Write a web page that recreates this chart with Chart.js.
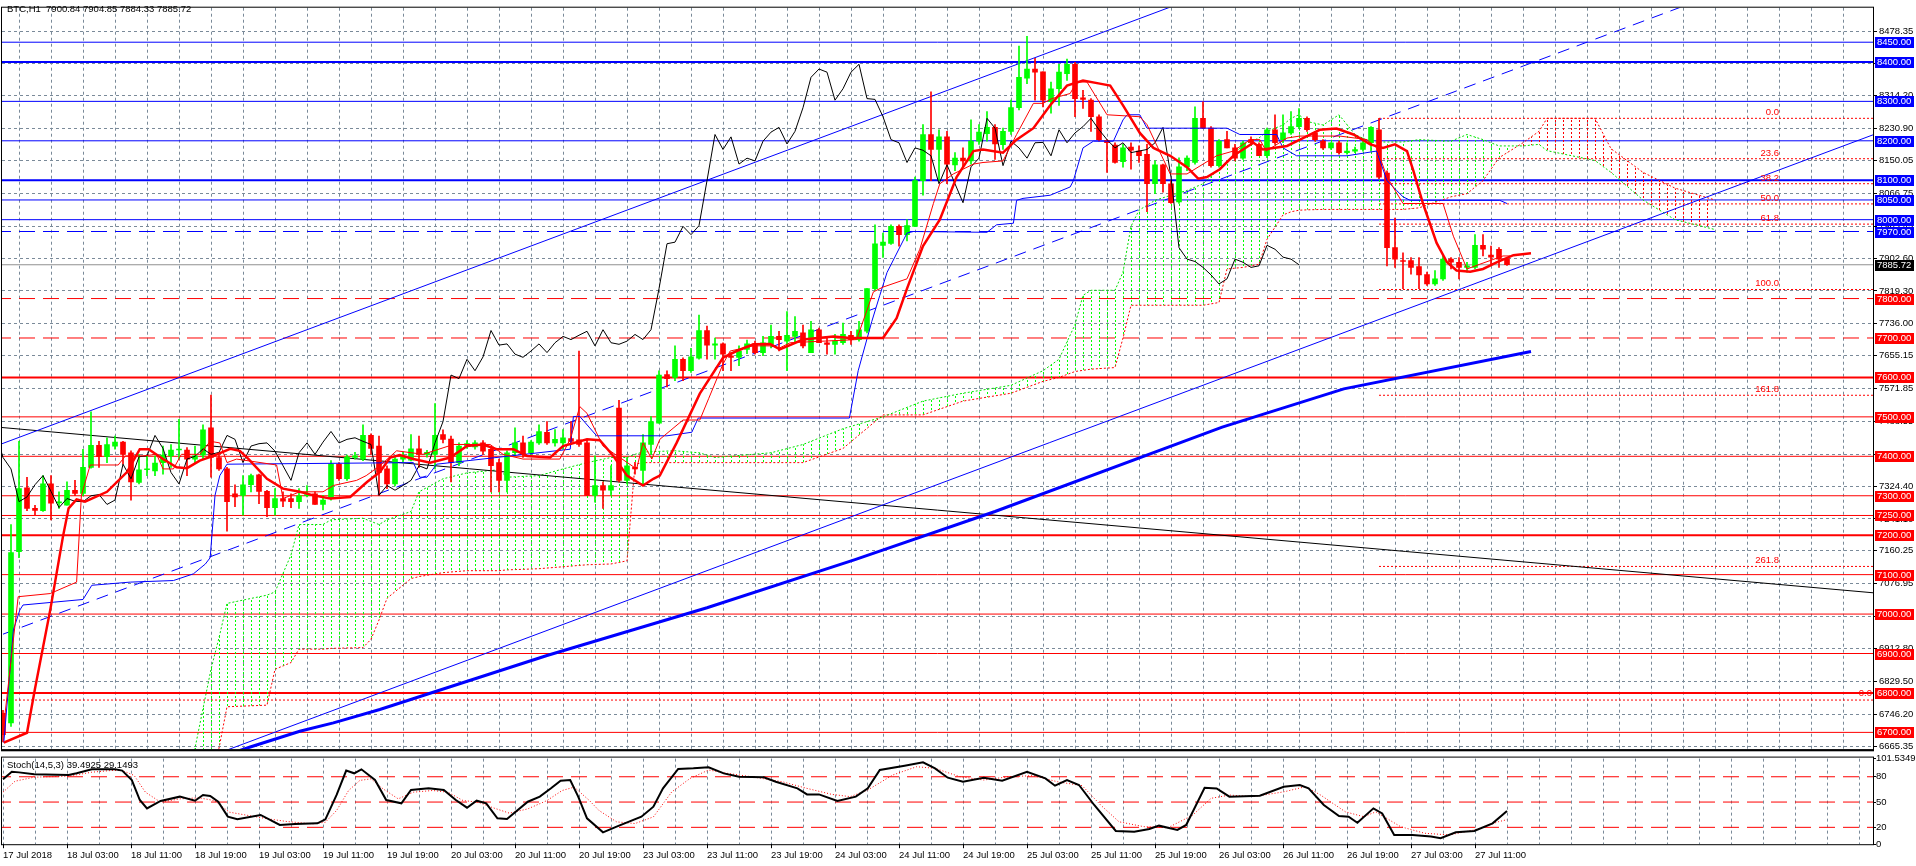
<!DOCTYPE html>
<html>
<head>
<meta charset="utf-8">
<script src="https://cdn.jsdelivr.net/npm/chart.js@4.4.0/dist/chart.umd.min.js"></script>
<style>
  body { margin: 0; background: #fff; width: 1916px; height: 866px; overflow: hidden; position: relative; }
  #main { position: absolute; left: 0; top: 0; }
  #stoch { position: absolute; left: 0; top: 746px; }
</style>
</head>
<body>
<canvas id="main" width="1916" height="757"></canvas>
<canvas id="stoch" width="1916" height="120"></canvas>
<script>
// ---- data (H1 bars, index 0 = 17 Jul 19:00) ----
var open = [6748,6724,7158,7320,7268,7262,7330,7282,7276,7314,7306,7372,7428,7399,7426,7436,7409,7334,7366,7363,7384,7401,7416,7416,7393,7403,7472,7397,7368,7305,
  7301,7328,7353,7311,7270,7293,7293,7285,7300,7305,7278,7293,7380,7343,7397,7393,7453,7426,7368,7330,7393,7390,7419,7405,7405,7455,7444,7384,7426,7424,
  7434,7418,7384,7339,7409,7434,7409,7434,7461,7434,7434,7445,7442,7434,7301,7326,7314,7522,7339,7372,7364,7430,7484,7607,7600,7646,7617,7649,7719,7682,
  7685,7655,7651,7671,7685,7663,7684,7704,7692,7704,7713,7663,7721,7688,7684,7688,7707,7696,7717,7825,7935,7940,7983,7962,7983,8099,8216,8178,8210,8139,
  8156,8149,8199,8218,8234,8190,8224,8284,8359,8382,8375,8299,8332,8370,8394,8309,8303,8261,8201,8189,8147,8184,8174,8166,8091,8139,8091,8045,8134,8145,
  8257,8232,8137,8203,8182,8156,8203,8191,8162,8228,8203,8220,8236,8257,8220,8199,8182,8195,8170,8174,8178,8195,8228,8118,7929,7896,7896,7881,7861,7837,
  7850,7900,7892,7879,7879,7935,7910,7925,7900.84];
var high = [6756,7227,7438,7347,7276,7351,7351,7310,7335,7339,7418,7513,7438,7447,7451,7438,7414,7405,7401,7401,7426,7430,7494,7422,7426,7480,7555,7403,7372,7328,
  7351,7355,7355,7314,7318,7310,7305,7318,7326,7310,7301,7389,7384,7403,7410,7480,7457,7451,7376,7400,7410,7455,7451,7415,7534,7467,7451,7434,7440,7440,
  7440,7426,7393,7414,7472,7451,7440,7480,7488,7468,7468,7488,7667,7442,7401,7335,7376,7542,7397,7385,7455,7501,7617,7617,7680,7650,7674,7758,7730,7700,
  7688,7663,7680,7695,7692,7704,7733,7717,7767,7754,7733,7742,7725,7700,7709,7738,7717,7742,7825,7987,7966,7987,7987,8000,8108,8241,8324,8228,8224,8170,
  8182,8253,8241,8274,8241,8232,8303,8440,8465,8409,8375,8349,8394,8407,8399,8328,8307,8266,8203,8195,8191,8195,8187,8191,8149,8141,8099,8157,8162,8286,
  8299,8236,8203,8224,8191,8199,8210,8195,8232,8266,8266,8274,8282,8261,8224,8203,8195,8199,8195,8184,8207,8236,8257,8124,8004,7916,7904,7904,7867,7871,
  7908,7904,7904,7892,7962,7962,7933,7929,7904.85];
var low = [6676,6715,7143,7262,7252,7260,7239,7268,7276,7300,7300,7370,7372,7384,7418,7380,7289,7330,7351,7351,7355,7372,7393,7351,7384,7393,7347,7364,7210,7272,
  7251,7310,7280,7247,7251,7272,7270,7268,7297,7278,7264,7289,7339,7339,7393,7389,7405,7301,7318,7325,7385,7388,7372,7398,7368,7434,7335,7376,7420,7418,
  7405,7310,7310,7310,7401,7397,7405,7430,7430,7426,7418,7430,7425,7301,7284,7268,7301,7335,7330,7355,7326,7405,7484,7576,7592,7592,7613,7646,7646,7646,
  7617,7617,7630,7660,7659,7655,7675,7667,7617,7688,7675,7663,7688,7659,7659,7684,7684,7692,7713,7821,7904,7937,7933,7946,7983,8062,8099,8099,8091,8124,
  8133,8141,8191,8199,8153,8178,8216,8278,8345,8303,8286,8270,8290,8353,8261,8282,8224,8199,8120,8143,8133,8128,8145,8020,8066,8070,8041,8041,8124,8141,
  8232,8133,8133,8182,8149,8153,8190,8162,8157,8191,8195,8216,8232,8224,8199,8178,8178,8166,8166,8170,8174,8174,8104,7883,7879,7825,7862,7825,7833,7833,
  7846,7875,7850,7867,7875,7908,7887,7879,7884.33];
var close = [6694,7156,7318,7268,7263,7330,7281,7283,7314,7306,7372,7428,7399,7430,7436,7405,7335,7366,7366,7383,7403,7416,7418,7393,7401,7467,7397,7368,7285,7297,
  7328,7351,7311,7270,7293,7286,7285,7300,7303,7278,7289,7380,7343,7399,7401,7453,7420,7359,7330,7393,7400,7419,7405,7410,7453,7443,7384,7426,7432,7434,
  7413,7376,7339,7409,7434,7405,7436,7463,7434,7443,7447,7438,7430,7301,7326,7314,7326,7339,7376,7368,7434,7488,7606,7597,7646,7617,7652,7719,7682,7685,
  7659,7651,7667,7685,7663,7688,7704,7696,7707,7717,7680,7721,7688,7684,7692,7709,7696,7721,7825,7939,7943,7983,7962,7985,8099,8216,8178,8210,8141,8156,
  8149,8199,8222,8234,8192,8224,8284,8361,8382,8374,8303,8332,8374,8394,8307,8305,8261,8203,8195,8145,8182,8176,8162,8091,8139,8091,8043,8134,8156,8257,
  8232,8137,8199,8182,8156,8195,8196,8162,8228,8195,8220,8236,8257,8228,8203,8182,8195,8170,8174,8178,8195,8234,8108,7929,7900,7894,7879,7860,7837,7850,
  7900,7892,7879,7883,7935,7925,7905,7900,7885.72];

// indicator lines as [bar index, value] vertices
var tenkan = [[0.1,6719],[1.9,7044],[5.9,7052],[9.2,7081],[9.8,7301],[10.9,7378],[14.4,7378],[15.3,7401],[17.5,7401],[19.2,7405],[20,7368],[21.3,7368],[22.3,7405],[24.6,7405],
  [25.9,7438],[27.1,7434],[28,7384],[29.2,7393],[34.2,7378],[35,7293],[37.1,7310],[40,7310],[41.3,7326],[44.2,7339],[45.4,7351],[47.1,7376],[49.2,7414],[52.5,7405],
  [56.3,7430],[60.9,7430],[62.5,7405],[65,7393],[69.6,7393],[70.9,7443],[72.1,7526],[73,7509],[75,7426],[79.2,7368],[80,7434],[81.1,7393],[82.1,7443],[85,7492],
  [87.1,7492],[88.2,7546],[90,7634],[90.9,7667],[93.8,7680],[95.9,7680],[97.1,7675],[98.4,7688],[106.7,7696],[108.8,7817],[110,7829],[113,7850],[114.6,7925],
  [116.3,8041],[117.1,8091],[118.8,8116],[121.3,8141],[122.5,8145],[125,8149],[126.7,8216],[128.8,8295],[130,8295],[131.1,8307],[133.4,8320],[134.2,8349],
  [135.5,8349],[138,8266],[142.1,8261],[143,8241],[145.9,8116],[148,8116],[151.7,8162],[153.8,8174],[155.9,8203],[157.1,8203],[157.9,8174],[160.5,8207],
  [162.1,8212],[167.1,8212],[170.5,8203],[171.7,8182],[173,8108],[175,8041],[180,8041],[181.3,7958],[183,7875],[184.6,7887],[187.5,7908],[188.4,7908]];
var kijun = [[0.1,6674],[1.3,6960],[2.1,7010],[2.5,7023],[10,7037],[11.1,7073],[15.9,7081],[21.3,7085],[23.8,7102],[25.3,7127],[25.9,7143],[26.5,7301],[27.1,7351],
  [28,7380],[51.3,7384],[52.1,7347],[53,7347],[54.2,7380],[70.9,7418],[71.3,7501],[72.1,7501],[74.2,7452],[83,7452],[86.1,7461],[86.9,7497],[105.8,7497],
  [106.9,7617],[108.6,7742],[109.6,7808],[110.5,7866],[113,7966],[113.8,7970],[123,7968],[124.2,7987],[126.3,7991],[126.7,8049],[127.5,8054],[130.9,8062],
  [133.4,8083],[133.8,8099],[135,8182],[136.3,8199],[138.8,8199],[140,8253],[140.5,8266],[142.1,8266],[143,8232],[153,8232],[154.6,8216],[159.2,8216],[160,8182],
  [161.7,8162],[168,8162],[171.7,8174],[173,8099],[174.2,8074],[175,8058],[175.9,8049],[187.1,8049],[188,8041]];
var maFast = [[0.1,6674],[3,6699],[4,6811],[5.9,7010],[7.5,7197],[8.2,7268],[9.2,7291],[10.25,7285],[13,7310],[15.5,7360],[17.1,7418],[18.2,7418],[20,7393],
  [21.7,7372],[23,7370],[24.6,7389],[26.3,7401],[28.4,7419],[29.6,7414],[30.7,7393],[33,7343],[35,7318],[37.1,7310],[38.8,7301],[40.9,7293],[43.4,7297],
  [45.5,7335],[47.1,7360],[48.4,7397],[49.6,7403],[51.3,7393],[53.4,7384],[55.9,7397],[58,7426],[60,7430],[61.7,7418],[63.8,7418],[65.5,7401],[68.4,7397],
  [70,7426],[73,7443],[74.6,7441],[76.3,7401],[78,7351],[80,7326],[81.3,7343],[82.1,7351],[84.2,7434],[87.1,7559],[90,7650],[91.7,7667],[93.8,7684],[95.9,7685],
  [97.1,7671],[100,7696],[103.8,7704],[105.9,7700],[110,7700],[111.7,7750],[113,7825],[115,7933],[117.1,8000],[119.2,8108],[121.3,8174],[122.5,8178],[125,8170],
  [126.7,8203],[128.8,8232],[130.9,8290],[133,8340],[135,8353],[137.1,8345],[138.4,8340],[140,8290],[142.1,8220],[143.8,8182],[145.9,8162],[148,8133],
  [149.4,8104],[150.5,8108],[152.1,8128],[153.8,8162],[155,8178],[156.3,8195],[157.5,8178],[158.8,8182],[160.5,8187],[162.5,8207],[164.6,8228],[166.7,8231],
  [168.8,8216],[170.9,8191],[172.5,8182],[174,8191],[175.5,8174],[176.3,8124],[177.5,8041],[179.2,7941],[180.5,7892],[181.7,7871],[183.4,7868],[185,7875],
  [186.7,7892],[188.8,7910],[191,7915]];
var maSlow = [[29,6650],[30.9,6663],[37.1,6703],[41.3,6724],[47.1,6758],[68,6895],[88,7016],[106.5,7138],[124,7260],[152.4,7474],[167.6,7571],[191,7666]];

// kumo (shifted 26 bars ahead)
var cloudX = [22,24,26,27,28,33,34,36,37,40,41,45,46,47,48,51,52,55,58,62,63,67,70,73,76,78,79,80,84,87,89,96,100,105,110,115,120,126,130,132,
  134,135,136,139,140,141,142,144,146,148,150,152,153,155,157,158,160,161,162,163,165,167,169,171,175,177,181,183,185,187,190,192,193,199,201,205,209,214];
var spanA = [6550,6660,6860,6940,7027,7048,7056,7150,7227,7227,7239,7243,7235,7227,7239,7260,7310,7343,7358,7366,7347,7351,7368,7384,7397,7397,7405,7411,7414,7409,
  7397,7409,7430,7470,7500,7540,7560,7580,7617,7646,7734,7808,7821,7821,7867,7983,8024,8049,8062,8074,8091,8128,8145,8190,8207,8224,8240,8257,8266,8249,
  8240,8266,8216,8197,8197,8203,8199,8216,8203,8187,8187,8191,8175,8150,8120,8050,8000,7975];
var spanB = [6500,6500,6560,6660,6765,6769,6860,6877,6911,6911,6913,6915,6936,6985,7040,7090,7095,7105,7110,7110,7112,7115,7120,7125,7127,7135,7380,7384,7384,7384,
  7384,7384,7384,7420,7505,7505,7540,7560,7590,7600,7615,7618,7621,7625,7700,7783,7783,7783,7783,7783,7783,7790,7875,7879,7887,7950,8012,8020,8024,8025,
  8026,8026,8026,8026,8026,8030,8058,8066,8099,8157,8195,8224,8257,8257,8180,8120,8080,8050];

var stochMain = [[0,77],[1.1,86],[2,85.2],[3.9,82.9],[8.2,82.1],[9.2,84.1],[11.1,88.8],[14,88.8],[14.9,87.3],[16.1,76.1],[17.1,52.4],[18,42.5],[19.7,51.3],
  [22.1,56.4],[24,51.6],[25,58.3],[25.9,57.2],[26.9,50.4],[28.1,32.7],[29.3,29.5],[32.2,34.7],[34.6,22.8],[36.5,24],[39.3,24.8],[40.3,29.5],[41.7,58.4],
  [42.9,87.3],[43.9,84.1],[44.8,88.8],[46.5,76.2],[47.9,52.4],[49.8,48.5],[51,64.3],[53.2,66.3],[55.1,64.3],[56.6,52.4],[58,43.3],[59.2,51.6],[60.4,48.5],
  [61.8,30.7],[63,29.9],[65.6,50.4],[67.1,56.4],[68.5,66.3],[69.7,75.4],[70.9,76.1],[71.9,56.4],[73,30.7],[75,14.1],[76.7,20.8],[79.8,32.6],[81.3,44.5],
  [82.5,66.2],[84.4,89.2],[86.3,90],[88.2,91.2],[90.1,84],[92,80.1],[95.1,79.3],[96.6,74.1],[99.3,66.2],[100.5,59.1],[102,59.1],[104.3,51.2],[106.6,56.4],
  [108.1,66.2],[109.6,88],[112.7,93.1],[115,97.1],[116.5,90],[118.1,78.9],[120,74.1],[122.6,78.9],[124.9,75.3],[128,86],[130.3,78.1],[131.5,69.4],[133,76.1],
  [134.5,70.2],[136.4,46.5],[139.1,15.7],[141.4,14.9],[143.3,18.1],[144.5,22],[146.8,16.9],[147.9,22.8],[150.2,67],[151.7,66.2],[153.3,56.4],[157.1,57.5],
  [160.1,68.2],[162.1,70.2],[163.2,66.2],[165.1,46.5],[167,33.4],[168.2,32.6],[169.3,25.5],[171.3,42.5],[172.4,36.5],[173.9,10.9],[176.2,10.9],[178.5,9],
  [179.7,7],[181.6,14.1],[183.9,15.7],[186.2,24.7],[188,39.5]];
var stochSignal = [[0,61.7],[1.5,74.7],[3.9,79.5],[8.2,80.7],[11.1,85.4],[13.5,87.4],[14.9,87.4],[16.4,81.5],[17.8,61.7],[19.7,49.8],[22.1,53.8],[24.5,55],
  [26.4,51.8],[28.3,38],[30.7,34],[33.1,30.1],[35.5,26.9],[38.7,24.1],[40.3,26.1],[41.7,40],[43.2,63.7],[44.6,75.6],[46,77.6],[47.5,65.7],[49.4,53.8],
  [51.3,61.7],[53.7,63.7],[55.6,61.7],[57.5,51.8],[59.4,49.8],[61.3,43.1],[63.3,36.8],[65.6,41.9],[68,51.8],[69.9,63.7],[71.4,67.7],[73.3,51.8],[74.5,40],
  [76.7,26.5],[79,24.5],[81.3,32.4],[83.6,62.1],[85.9,78.1],[88.2,88],[90.5,84.1],[93.5,80.1],[97.4,74.1],[100.5,66.2],[103.6,59.1],[105.9,56.4],[108.1,64.3],
  [111.2,82],[114.2,91.9],[116.5,90],[119.6,80.1],[122.6,76.1],[125.7,80.1],[128.8,81.3],[131.8,74.1],[134.9,69.4],[137.2,46.5],[139.5,26.6],[142.6,20.8],
  [145.6,19.5],[148.7,34.4],[151,54.4],[153.3,58.3],[156.3,56.4],[160.1,62.1],[162.8,68.2],[164.7,58.3],[167.8,38.4],[170.1,32.6],[171.6,38.4],[174.7,20.8],
  [177.7,13],[180.8,11],[183.9,16.9],[186.9,26.6],[188,29.1]];

var levels = [8450,8400,8300,8200,8100,8050,8000,7970,7800,7700,7600,7500,7400,7300,7250,7200,7100,7000,6900,6800,6700];
var bidPrice = 7885.72;
var priceTicks = [8478.35,8395.05,8314.20,8230.90,8150.05,8066.75,7983.45,7902.60,7819.30,7736.00,7655.15,7571.85,7488.55,7405.25,
  7324.40,7241.10,7160.25,7076.95,6993.65,6912.80,6829.50,6746.20,6665.35];
var timeLabels = ['17 Jul 2018','18 Jul 03:00','18 Jul 11:00','18 Jul 19:00','19 Jul 03:00','19 Jul 11:00','19 Jul 19:00','20 Jul 03:00',
  '20 Jul 11:00','20 Jul 19:00','23 Jul 03:00','23 Jul 11:00','23 Jul 19:00','24 Jul 03:00','24 Jul 11:00','24 Jul 19:00','25 Jul 03:00',
  '25 Jul 11:00','25 Jul 19:00','26 Jul 03:00','26 Jul 11:00','26 Jul 19:00','27 Jul 03:00','27 Jul 11:00'];

// trend objects: [bar index, price] end points
var channelTop = [[-0.375,7430],[234,9207]];
var channelMid = [[0,6949],[234,8723]];
var channelLow = [[-0.375,6440],[234,8217]];
var blackTrend = [[-0.125,7473],[233.75,7054]];
var fibHigh = 8257, fibLow = 7823, fibStart = 172;
var fibLevels = [0, 23.6, 38.2, 50, 61.8, 100, 161.8, 261.8];
var fib2Zero = 6782;
var stochLevels = [80, 50, 20];

// ---- setup ----
var FONT = "'Liberation Sans', Arial, sans-serif";
Chart.defaults.font.family = FONT;
Chart.defaults.font.size = 9.5;
Chart.defaults.color = '#000';

var XMIN = -0.125, XMAX = 233.75;
var GRID = '#7a8a99';
var mainCtx = document.getElementById('main').getContext('2d');

// vertical dotted hatch, one stroke per bar (8 px)
function hatch(color) {
  var c = document.createElement('canvas');
  c.width = 8; c.height = 4;
  var g = c.getContext('2d');
  g.fillStyle = color;
  g.fillRect(3, 0, 1, 2);
  return mainCtx.createPattern(c, 'repeat');
}
function pts(arr) { return arr.map(function (p) { return {x: p[0], y: p[1]}; }); }
function line(data, color, width, dash, order) {
  return {type: 'line', data: data, borderColor: color, borderWidth: width, borderDash: dash || [],
    pointRadius: 0, tension: 0, fill: false, order: order};
}
function hline(v, color, width, dash, from) {
  return line([{x: from === undefined ? -1 : from, y: v}, {x: 240, y: v}], color, width, dash, 60);
}
function fibPrice(l) { return fibHigh + (fibLow - fibHigh) * l / 100; }
var gridTicks = [];
for (var t = 0; t <= 232; t += 4) gridTicks.push({value: t});

var datasets = [];
// kumo
datasets.push({type: 'line', data: cloudX.map(function (x, k) { return {x: x, y: spanA[k]}; }),
  borderColor: '#00e000', borderWidth: 1, borderDash: [2, 2], pointRadius: 0, tension: 0,
  fill: {target: '+1', above: hatch('#00ff00'), below: hatch('#ff0000')}, order: 50});
datasets.push(line(cloudX.map(function (x, k) { return {x: x, y: spanB[k]}; }), '#ff0000', 1, [2, 2], 50));
// levels
levels.forEach(function (v) {
  var col = v >= 7970 ? '#0000ff' : '#ff0000';
  var w = [8400, 8100, 7600, 7200, 6800].indexOf(v) >= 0 ? 2 : 1;
  var dash = [7970, 7800, 7700].indexOf(v) >= 0 ? [16, 8] : [];
  datasets.push(hline(v, col, w, dash));
});
datasets.push(hline(bidPrice, '#909090', 1, []));
datasets.push(hline(fib2Zero, '#ff0000', 1, [2, 2]));
fibLevels.forEach(function (l) { datasets.push(hline(fibPrice(l), '#ff0000', 1, [2, 2], fibStart)); });
// trend lines
datasets.push(line(pts(channelTop), '#0000ff', 1, [], 45));
datasets.push(line(pts(channelMid), '#0000ff', 1, [12, 8], 45));
datasets.push(line(pts(channelLow), '#0000ff', 1, [], 45));
datasets.push(line(pts(blackTrend), '#000000', 1, [], 45));
// candles
var upDown = close.map(function (c, i) { return c >= open[i] ? '#00ff00' : '#ff0000'; });
datasets.push({type: 'bar', data: close.map(function (c, i) { return {x: i, y: [low[i], high[i]]}; }),
  backgroundColor: upDown, barThickness: 1, grouped: false, borderWidth: 0, order: 30});
datasets.push({type: 'bar', data: close.map(function (c, i) { return {x: i, y: [open[i], c]}; }),
  backgroundColor: upDown, barThickness: 5, grouped: false, borderWidth: 0, minBarLength: 1, order: 29});
// ichimoku lines
datasets.push(line(pts(tenkan), '#ff0000', 1, [], 20));
datasets.push(line(pts(kijun), '#0000ff', 1, [], 20));
datasets.push(line(close.map(function (c, i) { return {x: i - 26, y: c}; }), '#000000', 1, [], 20));
// moving averages
datasets.push(line(pts(maSlow), '#0000ff', 3, [], 10));
datasets.push(line(pts(maFast), '#ff0000', 2.5, [], 10));

function box(ctx, a, yy, bg, text) {
  ctx.fillStyle = bg;
  ctx.fillRect(a.right + 2, Math.round(yy) - 5, 39, 11);
  ctx.fillStyle = '#fff';
  ctx.fillText(text, a.right + 4, Math.round(yy) + 0.5);
}

var mainOverlay = {
  id: 'mainOverlay',
  afterDraw: function (chart) {
    var ctx = chart.ctx, a = chart.chartArea, x = chart.scales.x, y = chart.scales.y;
    ctx.save();
    ctx.strokeStyle = '#000'; ctx.lineWidth = 1;
    ctx.strokeRect(a.left - 0.5, a.top - 0.5, a.right - a.left + 1, a.bottom - a.top + 1);
    ctx.fillStyle = '#000';
    ctx.fillRect(a.left - 1, a.bottom, a.right - a.left + 2, 2);
    ctx.font = '9.5px ' + FONT;
    ctx.textBaseline = 'bottom';
    ctx.textAlign = 'right';
    ctx.fillStyle = '#ff0000';
    fibLevels.forEach(function (l) {
      ctx.fillText(l.toFixed(1), x.getPixelForValue(222), y.getPixelForValue(fibPrice(l)) - 1);
    });
    ctx.fillText('0.0', a.right - 1, y.getPixelForValue(fib2Zero) - 2);
    ctx.textAlign = 'left';
    ctx.fillStyle = '#000';
    ctx.fillText('BTC,H1  7900.84 7904.85 7884.33 7885.72', 7, 14);
    ctx.textBaseline = 'middle';
    levels.forEach(function (v) {
      box(ctx, a, y.getPixelForValue(v), v >= 7970 ? '#0000ff' : '#ff0000', v.toFixed(2));
    });
    box(ctx, a, y.getPixelForValue(bidPrice), '#000000', bidPrice.toFixed(2));
    ctx.restore();
  }
};

new Chart(mainCtx, {
  type: 'line',
  data: {datasets: datasets},
  options: {
    responsive: false, animation: false, devicePixelRatio: 1,
    layout: {padding: {left: 2, top: 1, right: 0, bottom: 2}},
    plugins: {legend: {display: false}, tooltip: {enabled: false}},
    scales: {
      x: {type: 'linear', min: XMIN, max: XMAX, offset: false,
        afterBuildTicks: function (ax) { ax.ticks = gridTicks.slice(); },
        afterFit: function (ax) { ax.height = 0; },
        ticks: {display: false}, grid: {color: GRID, drawTicks: false}, border: {display: false, dash: [3, 3]}},
      y: {type: 'linear', position: 'right', min: 6657.1, max: 8537.5,
        afterBuildTicks: function (ax) { ax.ticks = priceTicks.map(function (v) { return {value: v}; }); },
        afterFit: function (ax) { ax.width = 43; },
        ticks: {padding: 2, callback: function (v) { return v.toFixed(2); }},
        grid: {color: GRID, tickColor: '#000', tickLength: 4, tickBorderDash: []},
        border: {display: true, color: '#000', dash: [3, 3]}}
    }
  },
  plugins: [mainOverlay]
});

// ---- stochastic panel ----
var sDatasets = [];
stochLevels.forEach(function (v) { sDatasets.push(line([{x: -1, y: v}, {x: 240, y: v}], '#ff0000', 1, [16, 8], 30)); });
sDatasets.push(line(pts(stochSignal), '#ff0000', 1, [1, 2], 20));
sDatasets.push(line(pts(stochMain), '#000000', 2, [], 10));

var stochOverlay = {
  id: 'stochOverlay',
  afterDraw: function (chart) {
    var ctx = chart.ctx, a = chart.chartArea;
    ctx.save();
    ctx.strokeStyle = '#000'; ctx.lineWidth = 1;
    ctx.strokeRect(a.left - 0.5, a.top - 1.5, a.right - a.left + 1, a.bottom - a.top + 2);
    ctx.font = '9.5px ' + FONT;
    ctx.fillStyle = '#000';
    ctx.textBaseline = 'middle';
    ctx.fillText('Stoch(14,5,3) 39.4925 29.1493', 7, 19);
    ctx.restore();
  }
};

new Chart(document.getElementById('stoch').getContext('2d'), {
  type: 'line',
  data: {datasets: sDatasets},
  options: {
    responsive: false, animation: false, devicePixelRatio: 1,
    layout: {padding: {left: 2, top: 12.6, right: 0, bottom: 0}},
    plugins: {legend: {display: false}, tooltip: {enabled: false}},
    scales: {
      x: {type: 'linear', min: XMIN, max: XMAX, offset: false,
        afterBuildTicks: function (ax) { ax.ticks = gridTicks.slice(); },
        afterFit: function (ax) { ax.height = 21.8; },
        ticks: {autoSkip: false, maxRotation: 0, align: 'start', padding: 1,
          callback: function (v) { return (v % 8 === 0 && timeLabels[v / 8]) ? timeLabels[v / 8] : ''; }},
        grid: {color: GRID, tickLength: 4, tickBorderDash: [],
          tickColor: function (c) { return (c.tick && c.tick.value % 8 === 0 && c.tick.value <= 184) ? '#000' : 'rgba(0,0,0,0)'; }},
        border: {display: false, dash: [3, 3]}},
      y: {type: 'linear', position: 'right', min: 0, max: 101.5349,
        afterBuildTicks: function (ax) { ax.ticks = [101.5349, 80, 50, 20, 0].map(function (v) { return {value: v}; }); },
        afterFit: function (ax) { ax.width = 43; },
        ticks: {padding: 0, callback: function (v) { return v === 101.5349 ? '101.5349' : String(v); }},
        grid: {drawOnChartArea: false, tickColor: '#000', tickLength: 3},
        border: {display: true, color: '#000'}}
    }
  },
  plugins: [stochOverlay]
});
</script>
</body>
</html>
